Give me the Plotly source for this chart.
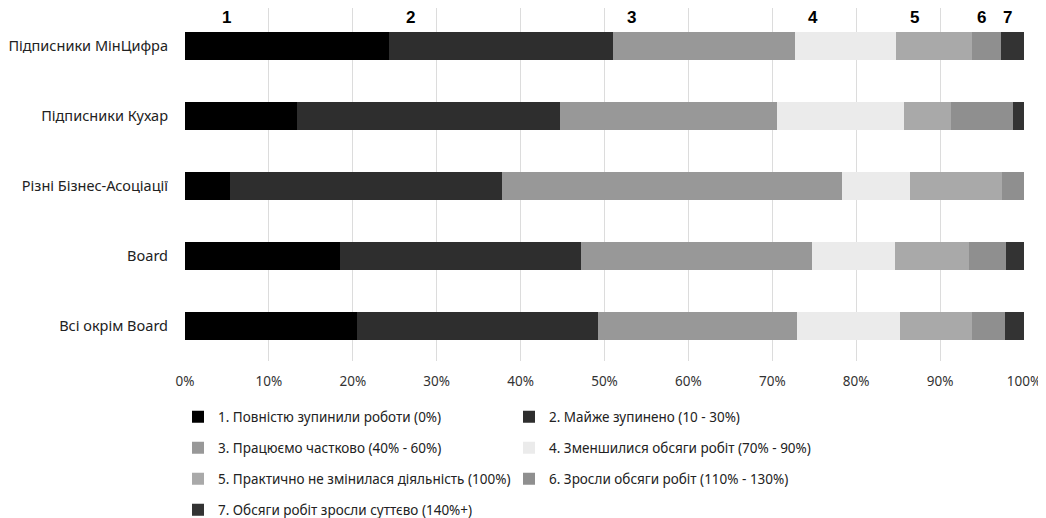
import plotly.graph_objects as go

categories = ["Підписники МінЦифра", "Підписники Кухар", "Різні Бізнес-Асоціації", "Board", "Всі окрім Board"]

series_names = [
    "1. Повністю зупинили роботи (0%)",
    "2. Майже зупинено (10 - 30%)",
    "3. Працюємо частково (40% - 60%)",
    "4. Зменшилися обсяги робіт (70% - 90%)",
    "5. Практично не змінилася діяльність (100%)",
    "6. Зросли обсяги робіт (110% - 130%)",
    "7. Обсяги робіт зросли суттєво (140%+)",
]

s1 = [24.3, 13.3, 5.4, 18.5, 20.5]
s2 = [26.7, 31.4, 32.4, 28.7, 28.7]
s3 = [21.7, 25.9, 40.5, 27.5, 23.7]
s4 = [12.0, 15.1, 8.1, 9.9, 12.3]
s5 = [9.1, 5.6, 11.0, 8.8, 8.6]
s6 = [3.4, 7.4, 2.6, 4.4, 3.9]
s7 = [2.8, 1.3, 0.0, 2.2, 2.3]
series_values = [s1, s2, s3, s4, s5, s6, s7]

colors = ["#000000", "#2e2e2e", "#989898", "#ebebeb", "#a9a9a9", "#8f8f8f", "#333333"]

top_labels = ["1", "2", "3", "4", "5", "6", "7"]
top_label_x = [5.0, 26.9, 53.2, 74.9, 86.9, 94.9, 98.0]

tick_vals = [0, 10, 20, 30, 40, 50, 60, 70, 80, 90, 100]
tick_text = ["0%", "10%", "20%", "30%", "40%", "50%", "60%", "70%", "80%", "90%", "100%"]

FONT = "Noto Sans, Open Sans, sans-serif"

legend_ids = ["legend", "legend", "legend2", "legend2", "legend3", "legend3", "legend4"]

W, H = 1038, 510

fig = go.Figure()
for name, vals, col, lg in zip(series_names, series_values, colors, legend_ids):
    fig.add_trace(go.Bar(
        y=categories, x=vals, name=name, orientation="h",
        marker=dict(color=col, line=dict(width=0)),
        legend=lg,
    ))

for lab, lx in zip(top_labels, top_label_x):
    fig.add_annotation(
        x=lx, y=0.972, xref="x", yref="paper", text="<b>%s</b>" % lab,
        showarrow=False, font=dict(family="Liberation Sans Narrow, Liberation Sans, Arial", size=17, color="#000"),
        xanchor="center", yanchor="middle",
    )

def ly(px):
    return 1 - (px - 8) / H

leg_common = dict(orientation="h", xanchor="left", yanchor="middle", x=170 / W,
                  xref="container", yref="container",
                  entrywidth=286, entrywidthmode="pixels",
                  font=dict(family=FONT, size=13.5, color="#222"),
                  bgcolor="rgba(0,0,0,0)", itemwidth=30, traceorder="normal")

fig.update_layout(
    width=W, height=H,
    margin=dict(l=177, r=22, t=0, b=157),
    barmode="stack",
    bargap=0.61,
    plot_bgcolor="white", paper_bgcolor="white",
    font=dict(family=FONT, size=14, color="#222"),
    xaxis=dict(range=[0, 100], tickvals=tick_vals, ticktext=tick_text,
               showgrid=True, gridcolor="#dcdcdc", gridwidth=1,
               zeroline=False, showline=False, ticks="",
               tickfont=dict(family=FONT, size=13.5, color="#333"), ticklabelstandoff=10),
    yaxis=dict(categoryorder="array", categoryarray=categories,
               range=[4.5, -0.543], showgrid=False, zeroline=False, ticks="",
               tickfont=dict(family=FONT, size=14.5, color="#222"), ticklabelstandoff=16),
    legend=dict(**leg_common, y=ly(417)),
    legend2=dict(**leg_common, y=ly(448)),
    legend3=dict(**leg_common, y=ly(479)),
    legend4=dict(**leg_common, y=ly(510)),
    showlegend=True,
)

fig.write_html("out.html")
